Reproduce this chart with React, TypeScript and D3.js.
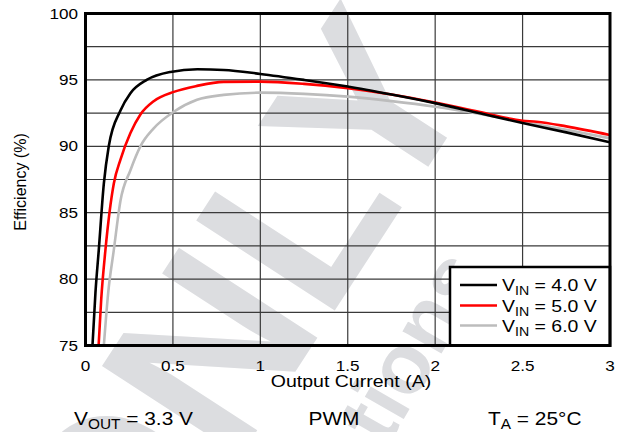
import React from "react";
import * as d3 from "d3";

// Efficiency vs output current, three input voltages
const current4 = [0.04, 0.057, 0.076, 0.105, 0.133, 0.2, 0.257, 0.35, 0.486, 0.64, 0.79, 1.0, 1.25, 1.5, 1.75, 2.0, 2.25, 2.5, 2.75, 3.0];
const eff4 = [75, 79, 82.2, 87.2, 90.0, 92.7, 94.0, 95.0, 95.6, 95.8, 95.75, 95.45, 95.0, 94.5, 93.9, 93.25, 92.5, 91.75, 91.05, 90.3];

const current5 = [0.075, 0.09, 0.114, 0.162, 0.2, 0.257, 0.314, 0.39, 0.505, 0.638, 0.79, 1.0, 1.25, 1.5, 1.75, 2.0, 2.25, 2.5, 2.58, 2.75, 3.0];
const eff5 = [75, 78.5, 82.2, 87.2, 89.0, 91.0, 92.4, 93.4, 94.1, 94.55, 94.85, 94.87, 94.7, 94.37, 93.9, 93.29, 92.6, 91.93, 91.85, 91.5, 90.85];

const current6 = [0.105, 0.13, 0.162, 0.2, 0.257, 0.314, 0.39, 0.505, 0.638, 0.79, 1.0, 1.25, 1.5, 1.75, 2.0, 2.25, 2.5, 2.75, 3.0];
const eff6 = [75, 79, 82.2, 85.9, 88.2, 90.0, 91.35, 92.6, 93.5, 93.87, 94.04, 93.95, 93.74, 93.4, 92.98, 92.45, 91.85, 91.25, 90.6];

const xTicks = [0, 0.5, 1, 1.5, 2, 2.5, 3];
const xTickLabels = ["0", "0.5", "1", "1.5", "2", "2.5", "3"];
const yTicks = [75, 80, 85, 90, 95, 100];
const yGrid = [77.5, 80, 82.5, 85, 87.5, 90, 92.5, 95, 97.5];

const seriesVin = ["4.0", "5.0", "6.0"];
const seriesColors = ["#000000", "#ff0000", "#bcbcbc"];

const W = 621;
const H = 432;
const FONT = "'Liberation Sans', Arial, Helvetica, sans-serif";

const x = d3.scaleLinear().domain([0, 3]).range([85.5, 610]);
const y = d3.scaleLinear().domain([75, 100]).range([345.5, 13.5]);

function Txt({ x: tx, y: ty, size, sx = 1.18, anchor = "start", children }: any) {
  return (
    <text
      transform={`translate(${tx},${ty}) scale(${sx},1)`}
      fontSize={size}
      fontFamily={FONT}
      textAnchor={anchor}
      fill="#000"
    >
      {children}
    </text>
  );
}

export default function App() {
  const series = [
    { xs: current4, ys: eff4 },
    { xs: current5, ys: eff5 },
    { xs: current6, ys: eff6 },
  ];
  const line = d3
    .line<[number, number]>()
    .x((d) => x(d[0]))
    .y((d) => y(d[1]))
    .curve(d3.curveMonotoneX);

  const [x0, x1] = x.range();
  const [yb, yt] = y.range();
  const legendRows = [285, 305.5, 325.5];

  return (
    <svg
      width={W}
      height={H}
      viewBox={`0 0 ${W} ${H}`}
      style={{ position: "absolute", left: 0, top: 0, background: "#fff" }}
    >
      <defs>
        <clipPath id="plotClip">
          <rect x={x0} y={yt} width={x1 - x0} height={yb - yt} />
        </clipPath>
      </defs>
      <rect x={0} y={0} width={W} height={H} fill="#fff" />

      {/* background stamp */}
      <g fill="#dcdde0" fontFamily={FONT} fontWeight="bold">
        <text transform="translate(130,626) rotate(-57)" fontSize={240}>
          ONLY
        </text>
        <text transform="translate(200,772) rotate(-60)" fontSize={85}>
          Specifications
        </text>
      </g>

      {/* grid */}
      <g stroke="#3a3a3a" strokeWidth={1.2}>
        {xTicks.slice(1, -1).map((v) => (
          <line key={`gx${v}`} x1={x(v)} x2={x(v)} y1={yt} y2={yb} />
        ))}
        {yGrid.map((v) => (
          <line key={`gy${v}`} x1={x0} x2={x1} y1={y(v)} y2={y(v)} />
        ))}
      </g>

      {/* curves */}
      <g clipPath="url(#plotClip)" fill="none" strokeWidth={2.6} strokeLinejoin="round">
        {series
          .map((s, i) => (
            <path
              key={i}
              d={line(s.xs.map((c, j) => [c, s.ys[j]] as [number, number])) || ""}
              stroke={seriesColors[i]}
            />
          ))
          .reverse()}
      </g>

      {/* legend */}
      <rect x={450} y={267} width={x1 - 450} height={yb - 267} fill="#fff" stroke="#000" strokeWidth={2.5} />
      {seriesVin.map((v, i) => (
        <g key={v}>
          <line x1={460} x2={497} y1={legendRows[i]} y2={legendRows[i]} stroke={seriesColors[i]} strokeWidth={2.6} />
          <Txt x={502} y={legendRows[i] + 6} size={16.5}>
            V<tspan fontSize={12} dy={4}>IN</tspan>
            <tspan dy={-4}>{` = ${v} V`}</tspan>
          </Txt>
        </g>
      ))}

      {/* frame */}
      <rect x={x0} y={yt} width={x1 - x0} height={yb - yt} fill="none" stroke="#000" strokeWidth={3} />

      {/* axis ticks */}
      {yTicks.map((v) => (
        <Txt key={`yt${v}`} x={78} y={y(v) + 5} size={14.5} anchor="end">
          {String(v)}
        </Txt>
      ))}
      {xTicks.map((v, i) => (
        <Txt key={`xt${v}`} x={x(v)} y={371} size={14.5} anchor="middle">
          {xTickLabels[i]}
        </Txt>
      ))}

      {/* axis titles */}
      <Txt x={351} y={387} size={16} sx={1.22} anchor="middle">
        Output Current (A)
      </Txt>
      <text
        transform="translate(26,182) rotate(-90)"
        fontSize={16}
        fontFamily={FONT}
        textAnchor="middle"
        fill="#000"
      >
        Efficiency (%)
      </text>

      {/* operating conditions */}
      <Txt x={74} y={425} size={19} sx={1.1}>
        V<tspan fontSize={14} dy={4}>OUT</tspan>
        <tspan dy={-4}> = 3.3 V</tspan>
      </Txt>
      <Txt x={334} y={425} size={19} sx={1.1} anchor="middle">
        PWM
      </Txt>
      <Txt x={488} y={425} size={19} sx={1.1}>
        T<tspan fontSize={14} dy={4}>A</tspan>
        <tspan dy={-4}> = 25°C</tspan>
      </Txt>
    </svg>
  );
}
